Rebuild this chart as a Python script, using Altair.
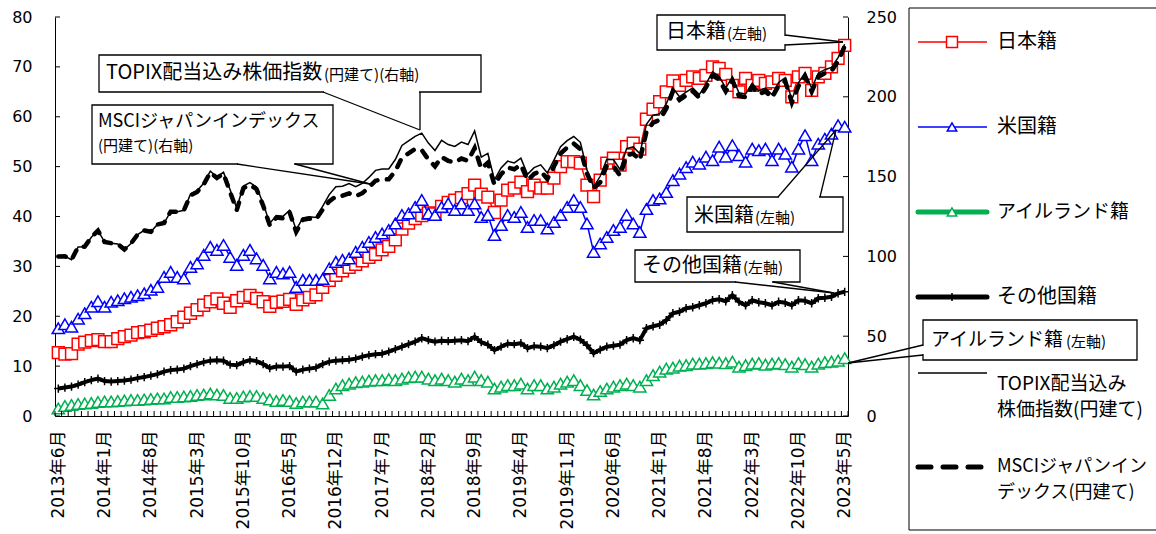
import altair as alt
import pandas as pd

# ---------------- data ----------------
x_labels = ["2013年6月", "2014年1月", "2014年8月", "2015年3月", "2015年10月", "2016年5月",
            "2016年12月", "2017年7月", "2018年2月", "2018年9月", "2019年4月", "2019年11月",
            "2020年6月", "2021年1月", "2021年8月", "2022年3月", "2022年10月", "2023年5月"]

jp = [12.7, 12.4, 12.5, 14.4, 14.8, 15.1, 15.3, 14.9, 14.9, 15.5,
      15.9, 16.2, 16.7, 16.9, 17.2, 17.6, 17.9, 18.3, 18.9, 19.8,
      20.6, 21.3, 22.2, 22.9, 23.5, 22.6, 21.8, 23.1, 23.8, 24.2,
      23.6, 22.9, 22.0, 22.8, 23.0, 23.4, 22.4, 23.3, 23.8, 24.3,
      25.8, 27.2, 28.2, 29.1, 29.8, 30.4, 31.1, 31.8, 32.4, 33.3,
      34.0, 35.3, 37.5, 38.7, 39.6, 40.2, 40.7, 40.5, 42.0, 42.8,
      43.3, 43.8, 44.6, 46.3, 44.5, 43.9, 40.8, 43.3, 45.3, 45.7,
      46.9, 45.0, 46.3, 45.7, 45.7, 47.7, 50.0, 51.0, 51.0, 50.7,
      46.3, 44.0, 47.3, 50.7, 51.7, 50.3, 54.0, 54.7, 53.5, 59.5,
      61.5, 63.0, 65.0, 67.2, 66.3, 67.3, 68.0, 67.7, 68.3, 70.0,
      69.7, 68.5, 66.3, 65.0, 67.7, 66.3, 67.3, 66.7, 67.0, 67.7,
      67.3, 64.0, 68.0, 68.7, 65.3, 68.0, 68.7, 70.0, 71.7, 74.3]

us = [17.6, 18.4, 17.9, 19.5, 20.6, 21.9, 23.0, 21.9, 22.9, 23.2,
      23.6, 23.9, 24.2, 24.6, 25.3, 25.9, 27.9, 28.9, 27.9, 27.6,
      29.9, 30.6, 32.3, 33.9, 33.3, 34.3, 31.9, 30.3, 32.3, 33.3,
      31.6, 30.3, 27.6, 28.9, 28.6, 28.9, 25.9, 27.3, 27.3, 27.3,
      27.5, 29.6, 30.9, 31.3, 31.6, 32.9, 33.9, 34.9, 35.9, 36.6,
      37.3, 38.6, 40.3, 40.6, 41.9, 43.3, 40.6, 40.3, 41.9, 42.6,
      41.3, 42.6, 41.3, 42.6, 39.9, 40.3, 36.3, 38.3, 40.3, 39.9,
      40.9, 37.9, 39.3, 39.3, 37.6, 38.9, 40.3, 41.9, 43.3, 41.9,
      38.6, 32.9, 34.6, 35.9, 37.3, 37.9, 40.3, 38.6, 36.9, 41.5,
      43.3, 43.6, 44.9, 47.3, 48.6, 49.9, 51.0, 50.6, 52.0, 51.3,
      54.0, 52.0, 54.3, 52.3, 51.0, 53.6, 53.3, 53.6, 51.3, 53.6,
      52.6, 50.0, 53.6, 56.3, 51.3, 54.6, 55.6, 56.6, 58.3, 58.0]

ie = [1.5, 2.0, 2.2, 2.4, 2.5, 2.6, 2.8, 2.9, 2.9, 3.0,
      3.1, 3.2, 3.2, 3.3, 3.4, 3.5, 3.5, 3.8, 3.8, 3.9,
      4.0, 4.2, 4.3, 4.5, 4.3, 4.2, 3.6, 3.6, 3.9, 4.0,
      4.0, 3.6, 3.3, 3.0, 3.2, 3.0, 2.6, 2.9, 2.9, 2.9,
      2.5, 4.2, 5.5, 6.2, 6.5, 6.8, 6.9, 7.1, 7.2, 7.2,
      7.4, 7.2, 7.5, 7.8, 7.9, 7.9, 7.5, 7.2, 7.5, 7.2,
      6.9, 7.5, 7.2, 7.9, 7.2, 6.9, 5.5, 5.9, 6.2, 6.2,
      6.5, 5.5, 6.2, 6.2, 5.5, 5.9, 6.5, 6.9, 7.2, 6.2,
      5.2, 4.3, 5.0, 5.5, 5.9, 6.2, 6.5, 6.2, 5.9, 7.2,
      8.2, 8.9, 9.5, 9.7, 10.1, 10.2, 10.5, 10.5, 10.6, 10.8,
      10.7, 10.6, 10.9, 9.9, 10.2, 10.5, 10.6, 10.3, 10.5, 10.6,
      10.4, 9.9, 10.6, 10.4, 9.9, 10.5, 10.8, 10.9, 11.1, 11.6]

other = [5.5, 5.7, 5.9, 6.3, 6.8, 7.2, 7.5, 7.0, 6.9, 7.0,
         7.1, 7.3, 7.6, 7.8, 8.1, 8.4, 8.9, 9.2, 9.3, 9.5,
         10.0, 10.4, 10.8, 11.1, 11.2, 11.1, 10.3, 10.2, 10.8, 11.2,
         11.0, 10.4, 9.6, 9.9, 9.9, 10.0, 8.9, 9.3, 9.5, 9.7,
         10.4, 10.9, 11.1, 11.2, 11.3, 11.5, 11.9, 12.2, 12.4, 12.5,
         12.9, 13.4, 13.9, 14.4, 14.9, 15.6, 15.2, 14.9, 15.1, 15.0,
         15.1, 15.2, 15.0, 15.9, 14.8, 14.3, 13.2, 13.9, 14.5, 14.4,
         14.6, 13.6, 14.0, 13.9, 13.6, 14.2, 14.9, 15.4, 15.9, 15.3,
         14.2, 12.6, 13.3, 13.9, 14.1, 14.3, 15.2, 15.6, 15.2, 17.6,
         18.0, 18.3, 19.2, 20.6, 20.9, 21.6, 21.8, 22.2, 22.6, 23.2,
         23.4, 23.0, 24.2, 22.9, 22.2, 23.2, 22.8, 22.6, 22.2, 22.9,
         22.7, 22.2, 23.2, 23.1, 22.6, 23.6, 23.7, 23.9, 24.6, 24.9]

topix = [100.0, 100.1, 97.9, 105.9, 106.1, 112.0, 116.1, 109.1, 108.3, 107.8,
         104.3, 108.1, 113.7, 116.3, 115.4, 120.0, 120.9, 128.0, 128.0, 128.9,
         139.0, 141.1, 145.8, 153.4, 149.8, 152.7, 141.7, 130.3, 144.1, 146.3,
         143.5, 133.1, 120.7, 125.6, 125.1, 128.9, 116.6, 124.1, 124.9, 124.4,
         131.3, 138.7, 143.6, 144.0, 145.6, 143.7, 145.7, 149.5, 153.9, 154.7,
         154.8, 160.7, 169.5, 172.4, 175.2, 177.2, 171.0, 166.4, 172.7, 170.1,
         168.9, 171.6, 170.1, 178.6, 162.2, 164.5, 147.9, 155.4, 159.7, 158.6,
         161.5, 151.4, 155.6, 157.4, 152.3, 160.3, 168.7, 172.5, 175.1, 171.5,
         154.3, 143.6, 150.2, 160.8, 160.7, 154.5, 167.6, 168.6, 164.3, 182.7,
         188.5, 189.3, 195.5, 205.5, 200.0, 202.9, 205.6, 201.4, 208.0, 215.6,
         212.8, 205.5, 212.4, 202.5, 201.8, 208.5, 203.7, 205.5, 201.4, 209.0,
         211.9, 198.4, 208.8, 215.1, 205.4, 214.7, 217.0, 218.4, 224.5, 232.9]

msci = [100.0, 100.1, 97.9, 105.9, 106.1, 112.0, 116.1, 109.1, 108.3, 107.8,
        104.3, 108.1, 113.7, 116.3, 115.4, 120.0, 120.9, 128.0, 128.0, 128.9,
        138.3, 140.4, 145.1, 152.6, 149.1, 151.9, 140.3, 129.0, 142.7, 144.8,
        142.1, 131.8, 119.5, 124.3, 123.8, 127.6, 115.4, 122.9, 123.7, 123.2,
        129.3, 134.5, 137.6, 138.0, 139.5, 137.7, 139.6, 143.2, 147.4, 148.2,
        148.3, 153.5, 161.9, 164.6, 167.3, 166.6, 160.7, 156.4, 162.3, 159.9,
        158.8, 161.3, 159.9, 167.9, 154.9, 158.7, 144.9, 151.5, 155.7, 154.6,
        157.5, 147.6, 151.7, 153.5, 148.5, 156.3, 164.5, 168.2, 170.7, 167.2,
        152.0, 142.9, 146.4, 156.8, 156.7, 150.6, 163.4, 164.4, 160.2, 178.1,
        183.8, 185.5, 192.6, 203.4, 198.0, 200.9, 203.5, 199.4, 205.9, 213.4,
        210.7, 203.4, 210.3, 200.5, 199.8, 206.4, 201.7, 203.4, 199.4, 206.9,
        209.8, 196.4, 206.7, 212.9, 203.3, 212.6, 214.8, 216.2, 222.3, 231.7]

left_ticks = [0, 10, 20, 30, 40, 50, 60, 70, 80]
right_ticks = [0, 50, 100, 150, 200, 250]

df = pd.DataFrame({"m": list(range(len(jp))), "jp": jp, "us": us, "ie": ie,
                   "other": other, "topix": topix, "msci": msci})

# ---------------- layout / style ----------------
CW, CH = 1156, 534
OX, OY = 55, 17          # plot origin on canvas
W, H = 793, 399          # plot size
RED, BLUE, GREEN, BLACK = "#FF0000", "#0000FF", "#00B050", "#000000"
JFONT = "Noto Sans CJK JP"
NFONT = "DejaVu Sans"
XFONT = "DejaVu Sans, Noto Sans CJK JP"

x_scale = alt.Scale(domain=[-0.5, len(jp) - 0.5], nice=False, zero=False)
yL_scale = alt.Scale(domain=[0, 80], nice=False, zero=True)
yR_scale = alt.Scale(domain=[0, 250], nice=False, zero=True)

label_expr = "[" + ",".join(f"'{s}'" for s in x_labels) + "][round(datum.value / 7)]"

x_axis = alt.Axis(values=list(range(0, len(jp), 7)), labelExpr=label_expr, labelAngle=270,
                  labelAlign="right", labelBaseline="middle", labelPadding=14,
                  labelFontSize=17, labelFont=XFONT, labelColor="black",
                  ticks=False, grid=False, domainColor="black", domainWidth=1,
                  title=None, labelOverlap=False, labelFlush=False)
yL_axis = alt.Axis(values=left_ticks, orient="left", ticks=False, grid=False,
                   domainColor="black", domainWidth=1, labelPadding=23,
                   labelFontSize=16, labelFont=NFONT, labelColor="black", title=None)
yR_axis = alt.Axis(values=right_ticks, orient="right", ticks=False, grid=False,
                   domainColor="black", domainWidth=1, labelPadding=18,
                   labelFontSize=16, labelFont=NFONT, labelColor="black", title=None)


def X(field="m"):
    return alt.X(f"{field}:Q", scale=x_scale, axis=x_axis)


def YL(field):
    return alt.Y(f"{field}:Q", scale=yL_scale, axis=yL_axis)


def YR(field):
    return alt.Y(f"{field}:Q", scale=yR_scale, axis=yR_axis)


base = alt.Chart(df)
PLUS = "M0,-1L0,1M-1,0L1,0"

jp_line = base.mark_line(color=RED, strokeWidth=1.5).encode(x=X(), y=YL("jp"))
jp_pts = base.mark_point(shape="square", size=140, fill="white", fillOpacity=1, stroke=RED,
                         strokeWidth=1.5, opacity=1).encode(x=X(), y=YL("jp"))
us_line = base.mark_line(color=BLUE, strokeWidth=1.5).encode(x=X(), y=YL("us"))
us_pts = base.mark_point(shape="triangle-up", size=150, fill="white", fillOpacity=1, stroke=BLUE,
                         strokeWidth=1.5, opacity=1).encode(x=X(), y=YL("us"))
ie_line = base.mark_line(color=GREEN, strokeWidth=1.5).encode(x=X(), y=YL("ie"))
ie_pts = base.mark_point(shape="triangle-up", size=150, fill="white", fillOpacity=1, stroke=GREEN,
                         strokeWidth=1.5, opacity=1).encode(x=X(), y=YL("ie"))
ot_line = base.mark_line(color=BLACK, strokeWidth=4).encode(x=X(), y=YL("other"))
ot_pts = base.mark_point(shape=PLUS, size=70, stroke=BLACK, strokeWidth=1.5,
                         opacity=1).encode(x=X(), y=YL("other"))

xticks = alt.Chart(pd.DataFrame({"m": [i - 0.5 for i in range(len(jp) + 1)]})).mark_rule(
    color="black", strokeWidth=1).encode(x=X(), y=alt.value(H - 5), y2=alt.value(H))
lticks = alt.Chart(pd.DataFrame({"v": left_ticks})).mark_rule(color="black", strokeWidth=1).encode(
    y=YL("v"), x=alt.value(0), x2=alt.value(5))

tp_line = base.mark_line(color=BLACK, strokeWidth=1.5).encode(x=X(), y=YR("topix"))
ms_line = base.mark_line(color=BLACK, strokeWidth=4.5, strokeDash=[7.5, 9.5],
                         strokeCap="round").encode(x=X(), y=YR("msci"))
rticks = alt.Chart(pd.DataFrame({"v": right_ticks})).mark_rule(color="black", strokeWidth=1).encode(
    y=YR("v"), x=alt.value(W - 5), x2=alt.value(W))

left = alt.layer(jp_line, jp_pts, us_line, us_pts, ie_line, ie_pts, ot_line, ot_pts, xticks, lticks)
right = alt.layer(tp_line, ms_line, rticks)

# ---------------- annotations (canvas pixel layout) ----------------
callouts = [
    {"box": (99, 55, 481, 92), "base": ((323, 92), (420, 92)), "tip": (420, 130),
     "texts": [("TOPIX配当込み株価指数", 106, 73, 20), ("(円建て)(右軸)", 324, 75, 15)]},
    {"box": (92, 105, 333, 164), "base": ((237, 164), (295, 164)), "tip": (370, 184),
     "texts": [("MSCIジャパンインデックス", 98, 122, 18), ("(円建て)(右軸)", 98, 146, 15)]},
    {"box": (657, 15, 785, 50), "base": ((785, 35), (785, 45)), "tip": (843, 42),
     "texts": [("日本籍", 666, 32, 20), ("(左軸)", 727, 34, 15)]},
    {"box": (687, 197, 843, 232), "base": ((778, 197), (820, 197)), "tip": (836, 130),
     "texts": [("米国籍", 694, 216, 20), ("(左軸)", 755, 218, 15)]},
    {"box": (635, 250, 800, 282), "base": ((735, 282), (773, 282)), "tip": (834, 293),
     "texts": [("その他国籍", 642, 266, 20), ("(左軸)", 743, 268, 15)]},
    {"box": (923, 320, 1137, 360), "base": ((923, 345), (923, 355)), "tip": (848, 363),
     "texts": [("アイルランド籍", 931, 340, 19), ("(左軸)", 1066, 342, 15)]},
]


def cx(v):
    return v - OX


def cy(v):
    return v - OY


def PX(f):
    return alt.X(f"{f}:Q", scale=None, axis=None)


def PY(f):
    return alt.Y(f"{f}:Q", scale=None, axis=None)


box_rows, erase_rows, wedge_rows, text_rows = [], [], [], []
for c in callouts:
    x0, y0, x1, y1 = c["box"]
    box_rows.append({"x0": cx(x0), "y0": cy(y0), "x1": cx(x1), "y1": cy(y1)})
    (bx1, by1), (bx2, by2) = c["base"]
    if by1 == by2:
        erase_rows.append({"x": cx(bx1 + 1), "y": cy(by1), "x2": cx(bx2 - 1), "y2": cy(by2)})
    else:
        erase_rows.append({"x": cx(bx1), "y": cy(by1 + 1), "x2": cx(bx2), "y2": cy(by2 - 1)})
    tx, ty = c["tip"]
    for bx, by in c["base"]:
        wedge_rows.append({"x": cx(bx), "y": cy(by), "x2": cx(tx), "y2": cy(ty)})
    for t, x, y, fs in c["texts"]:
        text_rows.append({"t": t, "x": cx(x), "y": cy(y), "fs": fs})

# legend
legend_box = (909, 8, 1175, 530)
LX0, LX1, LMX, LTX = 918, 987, 952, 997
legend_lines = [
    (42, RED, 1.5, None), (127, BLUE, 1.5, None), (212, GREEN, 5, None),
    (297, BLACK, 5, None), (373, BLACK, 1.5, None), (467, BLACK, 5, [13, 12]),
]
legend_marks = [
    (42, "square", 120, RED), (127, "triangle-up", 90, BLUE), (212, "triangle-up", 90, GREEN),
    (297, PLUS, 64, BLACK),
]
legend_texts = [
    ("日本籍", 42, 20), ("米国籍", 127, 20), ("アイルランド籍", 212, 19), ("その他国籍", 297, 20),
    ("TOPIX配当込み", 384, 19), ("株価指数(円建て)", 410, 19),
    ("MSCIジャパンイン", 467, 18), ("デックス(円建て)", 493, 18),
]
for t, y, fs in legend_texts:
    text_rows.append({"t": t, "x": cx(LTX), "y": cy(y), "fs": fs})

annots = []
lb = legend_box
annots.append(alt.Chart(pd.DataFrame([{"x0": cx(lb[0]), "y0": cy(lb[1]), "x1": cx(lb[2]), "y1": cy(lb[3])}]))
              .mark_rect(fill="white", stroke="black", strokeWidth=1)
              .encode(x=PX("x0"), x2=alt.X2("x1"), y=PY("y0"), y2=alt.Y2("y1")))
annots.append(alt.Chart(pd.DataFrame(box_rows))
              .mark_rect(fill="white", stroke="black", strokeWidth=1.3)
              .encode(x=PX("x0"), x2=alt.X2("x1"), y=PY("y0"), y2=alt.Y2("y1")))
annots.append(alt.Chart(pd.DataFrame(erase_rows))
              .mark_rule(color="white", strokeWidth=2.5)
              .encode(x=PX("x"), y=PY("y"), x2=alt.X2("x2"), y2=alt.Y2("y2")))
annots.append(alt.Chart(pd.DataFrame(wedge_rows))
              .mark_rule(color="black", strokeWidth=1.3)
              .encode(x=PX("x"), y=PY("y"), x2=alt.X2("x2"), y2=alt.Y2("y2")))

for y, col, sw, dash in legend_lines:
    kw = dict(color=col, strokeWidth=sw)
    if dash:
        kw.update(strokeDash=dash, strokeCap="round")
    elif sw > 2:
        kw.update(strokeCap="round")
    annots.append(alt.Chart(pd.DataFrame([{"x": cx(LX0), "x2": cx(LX1), "y": cy(y)}]))
                  .mark_rule(**kw)
                  .encode(x=PX("x"), x2=alt.X2("x2"), y=PY("y")))
for y, shape, size, col in legend_marks:
    kw = dict(shape=shape, size=size, stroke=col, strokeWidth=1.5, opacity=1)
    if shape != PLUS:
        kw.update(fill="white", fillOpacity=1)
    annots.append(alt.Chart(pd.DataFrame([{"x": cx(LMX), "y": cy(y)}]))
                  .mark_point(**kw)
                  .encode(x=PX("x"), y=PY("y")))

annots.append(alt.Chart(pd.DataFrame(text_rows))
              .mark_text(align="left", baseline="middle", font=JFONT, color="black")
              .encode(x=PX("x"), y=PY("y"), text="t:N",
                      size=alt.Size("fs:Q", scale=None, legend=None)))

chart = (alt.layer(left, right, *annots)
         .resolve_scale(y="independent")
         .properties(width=W, height=H,
                     autosize=alt.AutoSizeParams(type="none"),
                     padding={"left": OX, "top": OY, "right": CW - OX - W, "bottom": CH - OY - H},
                     background="white")
         .configure_view(stroke=None))

chart.save("out.html", embed_options={"renderer": "svg", "actions": False})
